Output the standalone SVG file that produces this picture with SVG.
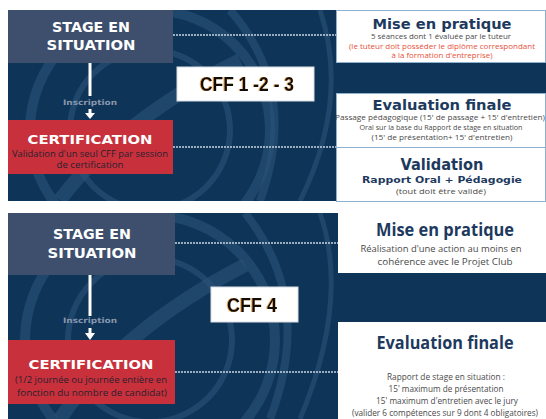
<svg xmlns="http://www.w3.org/2000/svg" width="546" height="419" viewBox="0 0 546 419">
<defs>
<style>
.panel{fill:#0e3458}
.stage{fill:#3d4f6d}
.cert{fill:#c8313b}
.wbox{fill:#ffffff}
.wb{fill:#ffffff;stroke:#8db0cf;stroke-width:1}
.ttl{font-family:"DejaVu Sans","Liberation Sans",sans-serif;font-weight:700;fill:#ffffff;text-anchor:middle}
.rt{font-family:"DejaVu Sans","Liberation Sans",sans-serif;font-weight:700;fill:#1d3a5e;text-anchor:middle}
.rt2{font-family:"Open Sans","Liberation Sans",sans-serif;font-weight:700;fill:#1d3a5e;text-anchor:middle}
.sub{font-family:"Open Sans","Liberation Sans",sans-serif;fill:#4a4a4a;text-anchor:middle}
.red{font-family:"Open Sans","Liberation Sans",sans-serif;fill:#e8513a;text-anchor:middle}
.dk{font-family:"Open Sans","Liberation Sans",sans-serif;fill:#2a2030;text-anchor:middle}
.insc{font-family:"DejaVu Sans","Liberation Sans",sans-serif;font-weight:700;fill:#8796ad;text-anchor:middle}
.cff{font-family:"Liberation Sans",Arial,sans-serif;font-weight:700;fill:#111111;text-anchor:middle}
.dot{stroke:#c9d4e2;stroke-width:1.3;stroke-dasharray:2 1;fill:none}
.arrow{stroke:#ffffff;stroke-width:3;fill:none}
.wm{fill:none;stroke:#2c5378;stroke-opacity:0.6}
</style>
<filter id="glow" x="-10%" y="-20%" width="120%" height="140%">
<feDropShadow dx="-0.8" dy="0" stdDeviation="0.4" flood-color="#e08a20" flood-opacity="0.9"/>
</filter>
<clipPath id="c1"><rect x="8" y="10" width="538" height="191"/></clipPath>
<clipPath id="c2"><rect x="8" y="213" width="538" height="206"/></clipPath>
</defs>
<rect width="546" height="419" fill="#ffffff"/>

<!-- top panel background -->
<g id="panel-top">
<rect class="panel" x="8" y="10" width="538" height="191"/>
<g clip-path="url(#c1)">
<circle class="wm" cx="150" cy="130" r="120" stroke-width="10"/>
<circle class="wm" cx="150" cy="130" r="80" stroke-width="6"/>
<path class="wm" d="M60 200 Q120 120 240 60" stroke-width="14"/>
<path class="wm" d="M230 10 Q300 90 260 201" stroke-width="8"/>
<path class="wm" d="M320 10 Q350 100 300 201" stroke-width="5"/>
</g>
</g>

<!-- bottom panel background -->
<g id="panel-bottom">
<rect class="panel" x="8" y="213" width="538" height="206"/>
<g clip-path="url(#c2)">
<circle class="wm" cx="150" cy="340" r="125" stroke-width="10"/>
<circle class="wm" cx="150" cy="340" r="82" stroke-width="6"/>
<path class="wm" d="M60 419 Q120 330 245 265" stroke-width="14"/>
<path class="wm" d="M245 213 Q315 300 270 419" stroke-width="8"/>
<path class="wm" d="M320 213 Q350 300 300 419" stroke-width="5"/>
</g>
</g>

<!-- connectors -->
<g id="connectors">
<line class="dot" x1="173" y1="35" x2="336" y2="35"/>
<line class="dot" x1="173" y1="147" x2="336" y2="147"/>
<line class="dot" x1="175" y1="243" x2="338" y2="243"/>
<line class="dot" x1="175" y1="372" x2="338" y2="372"/>
<line class="arrow" x1="90" y1="63" x2="90" y2="96"/>
<path d="M90 109 V114" class="arrow"/>
<path d="M85 113 L95 113 L90 119 Z" fill="#ffffff"/>
<line class="arrow" x1="90" y1="275" x2="90" y2="316"/>
<path d="M90 328 V334" class="arrow"/>
<path d="M85 333 L95 333 L90 340 Z" fill="#ffffff"/>
<text class="insc" x="90" y="105" font-size="7.5" textLength="54" lengthAdjust="spacingAndGlyphs">Inscription</text>
<text class="insc" x="90" y="323" font-size="7.5" textLength="54" lengthAdjust="spacingAndGlyphs">Inscription</text>
</g>

<!-- top nodes -->
<g id="stage-top">
<rect class="stage" x="8" y="10" width="165" height="53"/>
<text class="ttl" x="91" y="32" font-size="14.5" textLength="78" lengthAdjust="spacingAndGlyphs">STAGE EN</text>
<text class="ttl" x="91" y="50" font-size="14.5" textLength="89" lengthAdjust="spacingAndGlyphs">SITUATION</text>
</g>
<g id="cert-top">
<rect class="cert" x="8" y="120" width="165" height="54"/>
<text class="ttl" x="90" y="144" font-size="13" textLength="125" lengthAdjust="spacingAndGlyphs">CERTIFICATION</text>
<text class="dk" x="90" y="157" font-size="8.5" textLength="156" lengthAdjust="spacingAndGlyphs">Validation d'un seul CFF par session</text>
<text class="dk" x="90" y="168" font-size="8.5" textLength="67" lengthAdjust="spacingAndGlyphs">de certification</text>
</g>
<g id="cff123">
<rect x="177" y="67" width="137" height="34" fill="#ffffff" stroke="#d8dde4" stroke-width="1"/>
<text class="cff" x="247" y="91" font-size="21" textLength="94" lengthAdjust="spacingAndGlyphs" filter="url(#glow)">CFF 1 -2 - 3</text>
</g>
<g id="mise-top">
<rect class="wb" x="336.5" y="10.5" width="209" height="52"/>
<text class="rt" x="442" y="29" font-size="13.5" textLength="139" lengthAdjust="spacingAndGlyphs">Mise en pratique</text>
<text class="sub" x="441" y="38.5" font-size="7" textLength="140" lengthAdjust="spacingAndGlyphs">5 séances dont 1 évaluée par le tuteur</text>
<text class="red" x="442" y="48.5" font-size="7.5" textLength="186" lengthAdjust="spacingAndGlyphs">(le tuteur doit posséder le diplôme correspondant</text>
<text class="red" x="442" y="58" font-size="7.5" textLength="101" lengthAdjust="spacingAndGlyphs">à la formation d'entreprise)</text>
</g>
<g id="eval-top">
<rect class="wb" x="336.5" y="93.5" width="209" height="54"/>
<text class="rt" x="442" y="110" font-size="13.5" textLength="139" lengthAdjust="spacingAndGlyphs">Evaluation finale</text>
<text class="sub" x="440" y="119.5" font-size="7.5" textLength="210" lengthAdjust="spacingAndGlyphs">Passage pédagogique (15' de passage + 15' d'entretien)</text>
<text class="sub" x="441" y="130" font-size="7.5" textLength="163" lengthAdjust="spacingAndGlyphs">Oral sur la base du Rapport de stage en situation</text>
<text class="sub" x="442" y="140" font-size="7.5" textLength="141" lengthAdjust="spacingAndGlyphs">(15' de présentation+ 15' d'entretien)</text>
</g>
<g id="validation-top">
<rect class="wb" x="336.5" y="147.5" width="209" height="54"/>
<text class="rt" x="442" y="170" font-size="15" textLength="83" lengthAdjust="spacingAndGlyphs">Validation</text>
<text class="rt" x="442" y="183" font-size="9.5" textLength="160" lengthAdjust="spacingAndGlyphs">Rapport Oral + Pédagogie</text>
<text class="sub" x="441" y="194" font-size="8" textLength="90" lengthAdjust="spacingAndGlyphs">(tout doit être validé)</text>
</g>

<!-- bottom nodes -->
<g id="stage-bottom">
<rect class="stage" x="8" y="213" width="167" height="62"/>
<text class="ttl" x="92" y="239" font-size="14.5" textLength="78" lengthAdjust="spacingAndGlyphs">STAGE EN</text>
<text class="ttl" x="92" y="258" font-size="14.5" textLength="89" lengthAdjust="spacingAndGlyphs">SITUATION</text>
</g>
<g id="cert-bottom">
<rect class="cert" x="8" y="340" width="167" height="64"/>
<text class="ttl" x="91" y="369" font-size="13" textLength="125" lengthAdjust="spacingAndGlyphs">CERTIFICATION</text>
<text class="dk" x="91" y="383" font-size="9" textLength="152" lengthAdjust="spacingAndGlyphs">(1/2 journée ou journée entière en</text>
<text class="dk" x="92" y="396" font-size="9" textLength="150" lengthAdjust="spacingAndGlyphs">fonction du nombre de candidat)</text>
</g>
<g id="cff4">
<rect x="211" y="287" width="87" height="35" fill="#ffffff" stroke="#d8dde4" stroke-width="1"/>
<text class="cff" x="252" y="312" font-size="21" textLength="50" lengthAdjust="spacingAndGlyphs" filter="url(#glow)">CFF 4</text>
</g>
<g id="mise-bottom">
<rect class="wbox" x="338" y="213" width="208" height="60"/>
<text class="rt2" x="445" y="236" font-size="17" textLength="138" lengthAdjust="spacingAndGlyphs">Mise en pratique</text>
<text class="sub" x="441" y="251.5" font-size="9.5" textLength="161" lengthAdjust="spacingAndGlyphs">Réalisation d'une action au moins en</text>
<text class="sub" x="445" y="264.5" font-size="9.5" textLength="135" lengthAdjust="spacingAndGlyphs">cohérence avec le Projet Club</text>
</g>
<g id="eval-bottom">
<rect class="wbox" x="338" y="322" width="208" height="97"/>
<text class="rt2" x="445" y="349" font-size="18" textLength="137" lengthAdjust="spacingAndGlyphs">Evaluation finale</text>
<text class="sub" x="446" y="380" font-size="8.5" textLength="118" lengthAdjust="spacingAndGlyphs">Rapport de stage en situation :</text>
<text class="sub" x="446" y="392" font-size="8.5" textLength="115" lengthAdjust="spacingAndGlyphs">15' maximum de présentation</text>
<text class="sub" x="447" y="404" font-size="8.5" textLength="142" lengthAdjust="spacingAndGlyphs">15' maximum d'entretien avec le jury</text>
<text class="sub" x="445" y="416" font-size="8.5" textLength="186" lengthAdjust="spacingAndGlyphs">(valider 6 compétences sur 9 dont 4 obligatoires)</text>
</g>
</svg>
